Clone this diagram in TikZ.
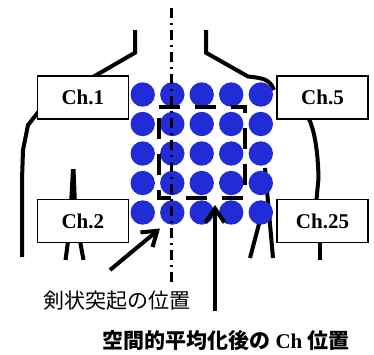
\documentclass[tikz,border=0pt]{standalone}
\usepackage{fontspec}
\setmainfont{Liberation Serif}
\newfontfamily\cjk{Noto Sans CJK JP}
\usetikzlibrary{arrows.meta}
\definecolor{dotblue}{RGB}{34,44,214}
\tikzset{
  body/.style={line width=4pt, line cap=butt, line join=miter},
  chbox/.style={draw, line width=1.4pt, fill=white, minimum width=91pt, minimum height=43pt, inner sep=0pt,
    font=\fontsize{21}{21}\selectfont\bfseries},
  elec/.style={fill=dotblue, draw=none},
  avgrect/.style={line width=4pt, dash pattern=on 21pt off 15pt},
  midline/.style={line width=2.5pt, dash pattern=on 10pt off 5pt on 2pt off 5pt},
  pointer/.style={line width=4pt, -{Straight Barb[length=14pt, width=19pt, line width=4pt]}},
}
\begin{document}
\begin{tikzpicture}[x=1pt, y=-1pt]
\useasboundingbox (0,0) rectangle (374,354);

% torso outline
\draw[body] (135,30) -- (135,52.7) -- (93,77);
\draw[body] (206,30) -- (206,52.7) -- (248,76.5) .. controls (262,78) and (270,79) .. (274,90);
\draw[body] (40,110) -- (28,125) -- (23,150) -- (22,180) -- (22,257);
\draw[body] (308,117) .. controls (314,128) and (318,150) .. (318.5,178) -- (316,205);
\draw[body] (319.5,238) -- (319.5,260);
% arms
\fill (71,169) -- (75.5,169) -- (77,205) -- (69,205) -- cycle;
\draw[line width=4pt] (68.5,238) -- (65.5,260);
\draw[line width=4pt] (79.5,238) -- (83.5,260);
\draw[line width=4pt] (265,168) -- (273,258);
\draw[line width=4pt] (264,205) -- (250,258);

% electrode grid
\foreach \c [count=\i] in {142.7,172.3,201.7,231.2,260.8}{
  \foreach \r [count=\j] in {94.5,124,153.5,183,212.5}{
    \fill[elec] (\c,\r) circle (12.2);
  }
}

% spatially averaged region
\draw[avgrect] (158.5,106.8) -- (245,106.8) -- (245,198.3) -- (158.5,198.3) -- cycle;

% midline through the xiphoid process
\coordinate (mtop) at (171.7,8);
\coordinate (mbot) at (171.7,284);
\draw[midline] (mtop) -- (mbot);

% channel labels
\node[chbox] (ch1) at (82.8,97.5) {Ch.1};
\node[chbox] (ch5) at (322.5,97.5) {Ch.5};
\node[chbox] (ch2) at (82.8,221.2) {Ch.2};
\node[chbox] (ch25) at (322.5,221.2) {Ch.25};

% captions
\node[font=\cjk\fontsize{21}{21}\selectfont, inner sep=0pt] (xiph) at (116.5,301) {剣状突起の位置};
\node[font=\fontsize{21}{21}\selectfont\bfseries, inner sep=0pt] (avg) at (226,341)
  {{\cjk\bfseries 空間的平均化後の} Ch {\cjk\bfseries 位置}};

% pointers
\coordinate (a1s) at (110,270);
\coordinate (a1e) at (160,228.5);
\draw[pointer] (a1s) -- (a1e);
\coordinate (a2s) at (215,311);
\coordinate (a2e) at (215,205);
\draw[pointer] (a2s) -- (a2e);
\end{tikzpicture}
\end{document}
